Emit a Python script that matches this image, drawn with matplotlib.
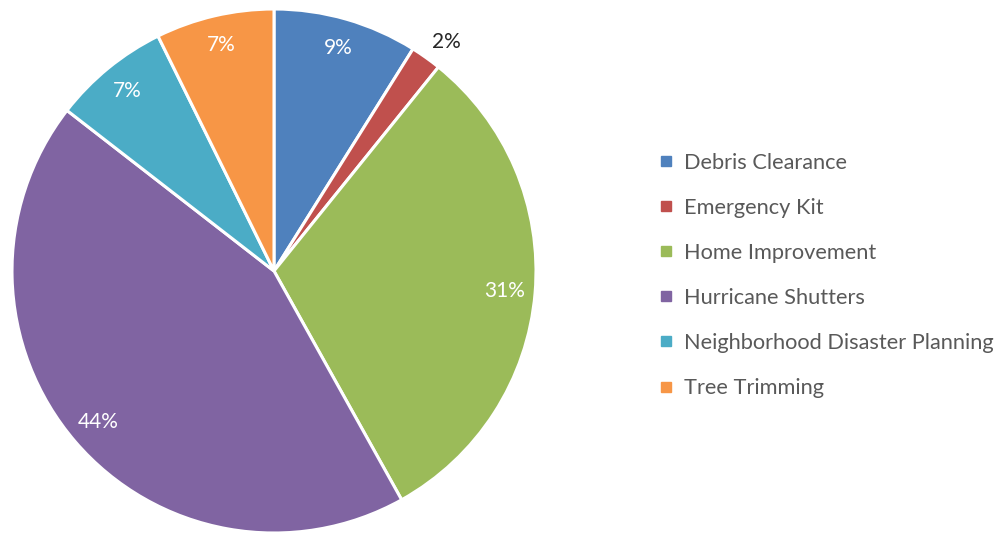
import matplotlib.pyplot as plt
from matplotlib.lines import Line2D

# Share of responses per preparedness activity (percent)
categories = ["Debris Clearance", "Emergency Kit", "Home Improvement",
              "Hurricane Shutters", "Neighborhood Disaster Planning", "Tree Trimming"]
shares = [8.9, 1.9, 31.1, 43.6, 7.2, 7.3]
colors = ["#4F81BD", "#C0504D", "#9BBB59", "#8064A2", "#4BACC6", "#F79646"]

plt.rcParams['font.family'] = ['Lato', 'DejaVu Sans']

W, H = 1007, 533
fig = plt.figure(figsize=(W / 100, H / 100), dpi=100)

# pie centre and radius in pixels
cx, cy, r = 274, 271, 262
ax = fig.add_axes([(cx - r) / W, (H - cy - r) / H, 2 * r / W, 2 * r / H])

wedges, texts, autotexts = ax.pie(
    shares, colors=colors, startangle=90, counterclock=False,
    autopct='%1.0f%%', pctdistance=0.885, radius=1.0,
    wedgeprops=dict(edgecolor='white', linewidth=2.2),
    textprops=dict(color='white', fontsize=15),
)
ax.set_xlim(-1, 1)
ax.set_ylim(-1, 1)
ax.set_aspect('equal')

# small slice label sits outside the pie, nudged a little clockwise
small = autotexts[1]
x, y = small.get_position()
small.set_position((x * 1.24 + 0.02, y * 1.24 - 0.02))
small.set_color('#262626')

handles = [Line2D([], [], marker='s', linestyle='none', markersize=7,
                  markerfacecolor=c, markeredgecolor=c) for c in colors]
fig.legend(handles, categories, loc='center left',
           bbox_to_anchor=(650 / W, 1 - 275.5 / H), frameon=False,
           fontsize=15.7, labelcolor='#595959', labelspacing=1.15,
           handlelength=0.7, handletextpad=0.45, borderaxespad=0)

fig.savefig('out.png', dpi=100)
